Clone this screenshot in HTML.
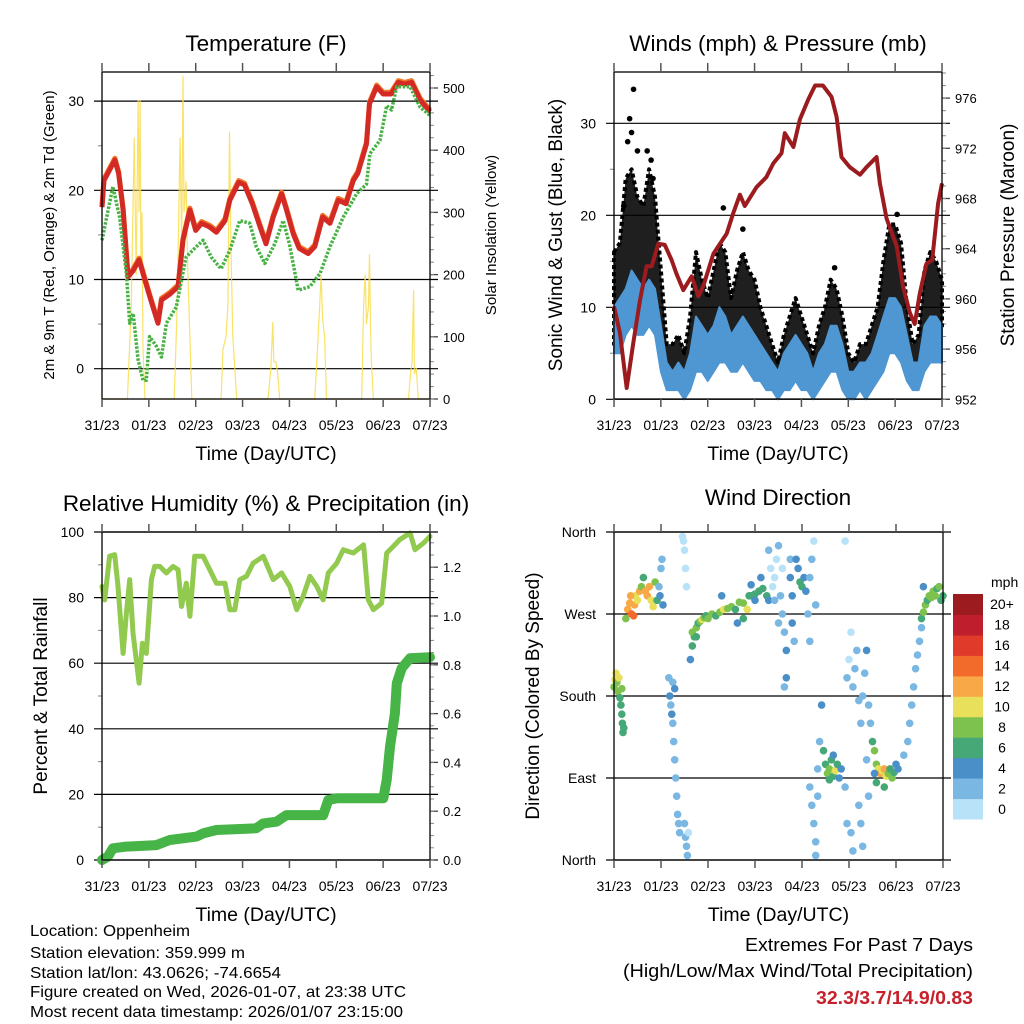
<!DOCTYPE html>
<html><head><meta charset="utf-8">
<style>
html,body{margin:0;padding:0;background:#fff;}
svg{display:block;font-family:"Liberation Sans",sans-serif;}
</style></head>
<body>
<svg id="chart" width="1024" height="1024" viewBox="0 0 1024 1024" xmlns="http://www.w3.org/2000/svg">
<rect width="1024" height="1024" fill="#fff"/>
<g id="layer"></g>
<g font-size="16" fill="#000">
<text x="30" y="936" textLength="160" lengthAdjust="spacingAndGlyphs">Location: Oppenheim</text>
<text x="30" y="958" textLength="215" lengthAdjust="spacingAndGlyphs">Station elevation: 359.999 m</text>
<text x="30" y="978" textLength="251" lengthAdjust="spacingAndGlyphs">Station lat/lon: 43.0626; -74.6654</text>
<text x="30" y="997" textLength="376" lengthAdjust="spacingAndGlyphs">Figure created on Wed, 2026-01-07, at 23:38 UTC</text>
<text x="30" y="1017" textLength="373" lengthAdjust="spacingAndGlyphs">Most recent data timestamp: 2026/01/07 23:15:00</text>
</g>
<g font-size="18.5">
<text x="745" y="951" textLength="228" lengthAdjust="spacingAndGlyphs">Extremes For Past 7 Days</text>
<text x="623" y="977" textLength="350" lengthAdjust="spacingAndGlyphs">(High/Low/Max Wind/Total Precipitation)</text>
<text x="816" y="1004" fill="#c8202a" font-weight="bold" textLength="157" lengthAdjust="spacingAndGlyphs">32.3/3.7/14.9/0.83</text>
</g>
</svg>
<script>
// ---------- data ----------
const dayLabels = ["31/23","01/23","02/23","03/23","04/23","05/23","06/23","07/23"];
// Temperature (F)
const tempHours = [0,1,6.6,8.5,10.8,13.3,16,19,22,25,28.7,30.5,35,39,41.5,45,48,51,55,58.6,63,65.5,70,73,77,81,84,87.7,92,94.5,98,101,105.6,109,113,116.8,121,125,128.7,131,135.5,137,140.7,144,148,151.8,155,158.6,163,168];
const tempValues = [18.1,21.1,23.4,21.9,17.8,10.3,11,12.2,9.9,7.7,5.1,7.7,8.4,9.2,14.4,17.8,15.5,16.3,15.9,15.3,16.6,18.9,20.9,20.6,18.5,15.9,14,17,19.6,17.8,15.1,13.5,12.9,13.7,17,16.3,18.9,18.5,21.1,21.9,25.2,29.7,31.6,30.8,30.8,32.1,31.9,32.1,30.1,28.8];
const dewHours = [0,5.6,9,12.5,14.2,16,18.5,21,22.7,24.4,27.9,30.5,33,38,43,48.4,51.8,56,61,65.5,70.6,75.7,79,83.4,88.5,92.8,96,100.5,106.5,111.7,116.8,123.6,130.4,135.5,137.2,142.4,145.8,148.3,151,157.8,163,168];
const dewValues = [14.4,20.4,17,10.7,5.1,6.2,1,-1.3,-1.3,3.6,2.5,1.3,5.1,6.9,12.5,13.7,14.4,12.5,11.2,13.3,16.6,16.3,13.7,11.8,14,16.6,14,8.8,9.2,10.7,13.7,17,19.6,20.7,24.1,25.6,29.5,29,31.6,31.6,29.3,28.4];
const solarHours = [0,13,15,16.5,17.5,18.5,19,19.5,20,20.5,21,22,37,38.5,40,40.8,41.5,42,43,44,45,46,61,62,63.5,64.5,65.3,66,67,68,69,85,86.5,87.5,88,89,90,91,109,110,111.5,112.2,113,114,115,133,134,134.8,135.5,136.5,137,137.5,138,139,157,158,158.8,159.6,160,161,162,168];
const solarValues = [0,0,150,420,200,480,300,480,200,300,80,0,0,150,420,250,520,300,350,200,100,0,0,80,100,150,430,250,100,50,0,0,50,124,60,60,40,0,0,60,150,200,130,100,0,0,150,200,120,150,233,120,60,0,0,40,60,175,40,50,0,0];
// Winds (mph) & pressure (mb), 3-hourly
const windHours = [0,3,6,9,12,15,18,21,24,27,30,33,36,39,42,45,48,51,54,57,60,63,66,69,72,75,78,81,84,87,90,93,96,99,102,105,108,111,114,117,120,123,126,129,132,135,138,141,144,147,150,153,156,159,162,165,168];
const gustLow  = [6,8,11,11,11,11,11,10,5,2,2,2,1,3,6,5,4,7,8,8,5,6,8,6,5,4,3,2,1,2,3,4,3,2,1,2,4,6,5,3,1,1,2,2,3,4,6,8,8,7,4,2,2,6,8,8,8];
const gustHigh = [16,17,24,25,22,21,25,22,14,6,6,7,5,9,16,13,11,14,17,16,11,14,16,14,13,10,8,6,4,7,9,11,9,7,5,8,10,13,12,9,5,4,6,6,8,10,15,19,19,17,10,6,7,14,16,15,13];
const windLow  = [5,5,7,8,7,7,8,7,3,1,1,1,0,1,3,3,2,3,4,4,3,3,4,3,2,2,1,1,0,1,1,2,1,1,0,1,2,3,3,1,0,0,1,0,1,2,3,5,5,4,2,1,1,3,4,4,4];
const windHigh = [10,11,12,14,13,12,13,12,8,4,3,4,3,5,9,8,7,8,10,9,7,8,9,8,7,6,5,4,3,5,6,7,6,5,3,5,6,8,8,6,3,3,4,4,5,7,9,11,11,10,7,4,4,8,9,9,8];
const gustPeakHours = [10,8,19,56,66,113,145,163,7,5,17,12,9,20];
const gustPeakValues = [33.7,30.5,26,20.8,18.5,14.3,20.1,15.5,28,21,27,27,29,24];
const presHours = [0,3,6.5,9.9,13.3,16.7,19.3,22.7,26,29.5,32,35.5,39.8,43.2,45.7,50.9,57.7,61,64.5,67,73,78,81.6,85.8,87.5,91.9,95.2,99.5,103,107,111.4,114,116.5,120.8,126,129.4,134.5,136.2,139.6,144.8,148,151.5,154,156.6,160,163,166,168];
const presValues = [959.4,957.3,952.9,956.5,959.9,962.6,962.6,964.4,964.3,963.1,962,960.7,961.8,960.2,961,963.6,965.2,966.8,968.3,967.4,968.9,969.7,970.8,971.6,973.2,972.1,974.3,975.9,977,977,976.1,974.5,971.3,970.5,969.9,970.5,971.3,969.2,966.4,964.2,961,958.9,958,960.4,962.8,963.1,967.6,969.2];
// RH & precipitation
const rhHours = [0,1.4,3.9,6.5,8.2,10.8,12.5,14.2,15.9,19,20.7,22.7,25.3,27,29.6,33,36.4,39,40.7,43.2,45,47.5,51.8,55.2,58.6,63,65.5,68,70.6,74,77.4,82.6,87.7,92,96.2,99.7,103,106.5,110,113.3,115.9,120.2,123.6,128.7,134,136.4,139,143.2,145.8,149.2,152.6,157.8,160.3,164.6,168];
const rhValues = [83.4,79.3,92.6,93.1,83.4,63,75.3,85.5,69.2,53.9,66.1,63,85.5,89.5,89.5,87.5,89.5,88.5,77.3,84.4,74.3,92.6,92.6,88.5,84.4,84.4,76.3,76.3,85.5,86.5,90.5,92.6,85.5,87.5,83.4,76.3,80.4,86.5,83.4,79.3,87.5,90.5,94.6,93.6,96.1,79.3,76.3,78.3,93.6,95.6,97.7,99.7,94.6,96.6,98.7];
const rainHours = [0,3,5.6,12.5,27.9,34.7,48.4,51.8,58.6,79,82.6,89.4,94.5,113.3,115.9,120.2,144.1,145.8,147.5,150,151,153.5,157.8,168];
const rainValues = [0,0.014,0.048,0.055,0.061,0.082,0.096,0.109,0.123,0.130,0.150,0.157,0.184,0.184,0.246,0.253,0.253,0.328,0.464,0.601,0.724,0.786,0.827,0.831];
// Wind direction (deg) colored by speed (mph)
const dirHours = [0,0.5,1,1.5,2,2.5,3,3.5,4,4.3,4.6,5,4,
 6,7,8,9,10,10.5,11,12,13,8.5,
 14,15,16,17,18,19,20,21,22,
 23,24,24.5,25,23.5,
 28,28.5,29,30,30.5,29.5,31,31.5,32,32.5,33,33.5,30,31,
 35,35.5,36,36.5,37,36,36.5,37,37.5,38,
 39,40,41,42,43,44,45,46,47,48,40,42,
 50,52,54,56,58,60,62,64,66,68,69,66,63,55,
 70,72,74,76,78,72,75,70,79,
 79,80,81,82,83,84,85,86,87,88,88,87,82,84,86,90,90,91,91,92,
 93,94,95,96,97,98,99,100,101,102,103,100,
 100,101,102,103,104,105,106,104,103,
 107,108,109,110,111,112,113,114,115,116,110,112,
 118,119,120,121,122,123,124,125,118,119,121,122,125,126,127,128,129,127,126,130,131,130,129,
 132,133,134,135,136,137,138,139,140,141,142,143,144,145,133,134,138,
 148,150,151,152,153,154,155,156,157,
 157,158,159,160,161,162,163,164,165,166,167,168,158];
const dirDeg = [190,198,205,195,185,200,178,170,160,150,140,145,188,
 265,275,282,270,268,280,290,285,295,290,
 300,310,295,290,300,285,278,305,285,
 300,320,330,280,290,
 200,180,170,150,130,160,110,90,70,50,40,30,195,188,
 355,350,340,320,300,40,25,15,5,30,
 220,235,245,255,260,262,264,266,268,265,250,245,
 270,268,272,275,276,278,275,283,282,275,290,265,260,290,
 290,292,295,298,290,285,310,302,285,
 340,320,300,310,330,345,290,270,250,230,200,190,285,260,320,330,310,260,290,240,
 330,320,305,300,310,295,270,310,330,350,280,240,
 80,60,40,20,100,130,170,70,5,
 120,105,95,100,110,92,98,105,90,100,88,115,
 350,200,220,250,190,210,230,175,80,40,30,10,60,150,180,205,230,15,40,170,150,70,110,
 130,120,105,100,95,98,100,92,95,100,90,96,105,100,95,85,80,
 115,130,150,170,190,210,225,240,255,
 265,272,280,285,290,288,295,290,298,300,285,290,300];
const dirSpeed = [8,10,10,9,8,10,6,6,6,6,6,7,8,
 8,12,13,15,14,12,10,10,12,12,
 8,6,12,12,13,11,10,8,6,
 3,3,3,4,4,
 3,4,3,3,2,4,2,2,2,2,2,2,3,4,
 1,1,1,1,1,2,2,2,2,1,
 4,6,7,8,7,8,10,8,7,8,8,6,
 8,7,8,10,8,9,6,8,8,10,6,7,4,5,
 6,6,6,6,6,5,4,4,4,
 2,1,1,1,1,2,2,3,3,4,4,3,3,3,1,3,4,4,4,3,
 4,5,6,6,5,4,3,2,2,1,2,2,
 2,2,3,2,3,3,4,2,2,
 6,7,8,8,6,7,10,6,4,4,7,5,
 1,2,1,1,2,2,2,2,2,3,2,3,2,2,3,2,4,2,2,3,2,3,3,
 6,8,8,10,12,10,12,10,8,6,8,7,4,4,5,6,6,
 2,2,2,2,2,3,3,2,3,
 7,8,8,7,8,8,8,9,6,8,6,6,4];
const speedColors = ["#b8e2f7","#7ab8e3","#4a8fc7","#45a876","#7dc24e","#e8e05a","#f9a848","#f26b2a","#e03a2a","#bf1e2d","#9b1b1e"];
const speedLabels = ["0","2","4","6","8","10","12","14","16","18","20+"];

// ---------- helpers ----------
const NS = "http://www.w3.org/2000/svg";
const layer = document.getElementById("layer");
function mk(tag, attrs, parent){
  const e = document.createElementNS(NS, tag);
  for (const k in attrs) e.setAttribute(k, attrs[k]);
  (parent||layer).appendChild(e);
  return e;
}
function txt(x,y,s,size,anchor,parent,rot){
  const t = mk("text",{x:x,y:y,"font-size":size,"text-anchor":anchor||"middle",fill:"#000"},parent);
  if (rot) t.setAttribute("transform","rotate("+rot+" "+x+" "+y+")");
  t.textContent = s;
  return t;
}
function linScale(d0,d1,r0,r1){ return v => r0 + (v-d0)/(d1-d0)*(r1-r0); }
function pathFrom(xs, ys, fx, fy){
  return xs.map((h,i)=>(i?"L":"M")+fx(h).toFixed(1)+","+fy(ys[i]).toFixed(1)).join("");
}
function xAxis(g, x0, x1, y1){
  const fx = linScale(0,168,x0,x1);
  dayLabels.forEach((lab,i)=>{
    const x = fx(i*24);
    const tb = mk("line",{x1:x,y1:y1,x2:x,y2:y1+8,stroke:"#555","stroke-width":1.5},g);
    
    
    const tt = mk("line",{x1:x,y1:y1-328,x2:x,y2:y1-336,stroke:"#555","stroke-width":1.5},g);
    
    
    const t = txt(x, y1+31, lab, 14, "middle", g);
    
    
  });
  const tl = txt((x0+x1)/2, y1+61, "Time (Day/UTC)", 19.5, "middle", g);
  
  
  return fx;
}
function frame(g,x0,y0,x1,y1){
  const r = mk("rect",{x:x0,y:y0,width:x1-x0,height:y1-y0,fill:"none",stroke:"#000","stroke-width":1.3},g);
  
  
}
function leftAxis(g, ticks, fy, x0, x1, minorTicks, labels){
  ticks.forEach((v,i)=>{
    const y = fy(v);
    const l = mk("line",{x1:x0-8,y1:y,x2:x1+8,y2:y,stroke:"#000","stroke-width":1.2},g);
    
    
    const t = txt(x0-18, y+5, labels?labels[i]:String(v), 14, "end", g);
    
    
  });
  (minorTicks||[]).forEach(v=>{
    const y = fy(v);
    const l = mk("line",{x1:x0-4,y1:y,x2:x0,y2:y,stroke:"#999","stroke-width":1.2},g);
    
    
  });
}
function rightAxis(g, ticks, minors, fy, x1, fmt){
  ticks.forEach(v=>{
    const y = fy(v);
    const l = mk("line",{x1:x1,y1:y,x2:x1+8,y2:y,stroke:"#444","stroke-width":1.3},g);
    
    
    const t = txt(x1+13, y+5, fmt(v), 13, "start", g);
    
    
  });
  minors.forEach(v=>{
    const y = fy(v);
    const l = mk("line",{x1:x1,y1:y,x2:x1+4,y2:y,stroke:"#888","stroke-width":1},g);
    
    
  });
}
function range(a,b,s){const r=[];for(let v=a;v<=b+1e-9;v+=s)r.push(+v.toFixed(4));return r;}

// ---------- Panel 1: Temperature ----------
(function(){
  const g = mk("g",{});
  
  
  const x0=102,x1=430,y0=72,y1=399;
  const fyT = linScale(0,30,368.7,101.1);
  const fyS = linScale(0,500,399,88);
  const fx = linScale(0,168,x0,x1);
  const tt = txt(266,51,"Temperature (F)",22.5,"middle",g);
  
  
  leftAxis(g,[0,10,20,30],fyT,x0,x1,[5,15,25]);
  rightAxis(g,[0,100,200,300,400,500],range(0,520,20),fyS,x1,v=>String(v));
  const sol = mk("path",{d:pathFrom(solarHours,solarValues,fx,fyS),fill:"none",stroke:"#f9dd4a","stroke-width":1.2,"stroke-opacity":0.85},g);
  
  
  const fyTo = v=>fyT(v)-1.8;
  const or = mk("path",{d:pathFrom(tempHours,tempValues,fx,fyTo),fill:"none",stroke:"#f07a2a","stroke-width":5,"stroke-linejoin":"round"},g);
  
  
  const red = mk("path",{d:pathFrom(tempHours,tempValues,fx,fyT),fill:"none",stroke:"#d42a26","stroke-width":5,"stroke-linejoin":"round"},g);
  
  
  const dew = mk("path",{d:pathFrom(dewHours,dewValues,fx,fyT),fill:"none",stroke:"#47b243","stroke-width":3.5,"stroke-dasharray":"2.5 1.5","stroke-linejoin":"round"},g);
  
  
  frame(g,x0,y0,x1,y1);
  xAxis(g,x0,x1,y1);
  const yl = txt(54,235,"2m & 9m T (Red, Orange) & 2m Td (Green)",15,"middle",g,-90);
  
  
  const yr = txt(496,235,"Solar Insolation (Yellow)",15,"middle",g,-90);
  
  
})();

// ---------- Panel 2: Winds ----------
(function(){
  const g = mk("g",{});
  
  
  const x0=614,x1=942,y0=72,y1=399;
  const fyW = linScale(0,30,399.3,123.3);
  const fyP = linScale(952,976,399.3,98.1);
  const fx = linScale(0,168,x0,x1);
  const tt = txt(778,51,"Winds (mph) & Pressure (mb)",22.5,"middle",g);
  
  
  leftAxis(g,[0,10,20,30],fyW,x0,x1,[5,15,25]);
  rightAxis(g,[952,956,960,964,968,972,976],range(952,978,1),fyP,x1,v=>String(v));
  let d = windHours.map((h,i)=>(i?"L":"M")+fx(h).toFixed(1)+","+fyW(gustHigh[i]).toFixed(1)).join("");
  for (let i=windHours.length-1;i>=0;i--) d += "L"+fx(windHours[i]).toFixed(1)+","+fyW(gustLow[i]).toFixed(1);
  const gc = mk("path",{d:d+"Z",fill:"#000","fill-opacity":0.88,stroke:"#000","stroke-width":4,"stroke-dasharray":"4 3","stroke-linejoin":"round"},g);
  
  
  gustPeakHours.forEach((h,i)=>{
    const c = mk("circle",{cx:fx(h),cy:fyW(gustPeakValues[i]),r:2.8,fill:"#000"},g);
    
    
  });
  let d2 = windHours.map((h,i)=>(i?"L":"M")+fx(h).toFixed(1)+","+fyW(windHigh[i]).toFixed(1)).join("");
  for (let i=windHours.length-1;i>=0;i--) d2 += "L"+fx(windHours[i]).toFixed(1)+","+fyW(windLow[i]).toFixed(1);
  const wb = mk("path",{d:d2+"Z",fill:"#4e97d3",stroke:"#4e97d3","stroke-width":2,"stroke-linejoin":"round"},g);
  
  
  const pr = mk("path",{d:pathFrom(presHours,presValues,fx,fyP),fill:"none",stroke:"#9b1b1e","stroke-width":4,"stroke-linejoin":"round"},g);
  
  
  frame(g,x0,y0,x1,y1);
  xAxis(g,x0,x1,y1);
  const yl = txt(562,235,"Sonic Wind & Gust (Blue, Black)",19,"middle",g,-90);
  
  
  const yr = txt(1014,235,"Station Pressure (Maroon)",19,"middle",g,-90);
  
  
})();

// ---------- Panel 3: RH & Precip ----------
(function(){
  const g = mk("g",{});
  
  
  const x0=102,x1=430,y0=532,y1=860;
  const fyH = linScale(0,100,860,532);
  const fyR = linScale(0,1,860,616);
  const fx = linScale(0,168,x0,x1);
  const tt = txt(266,511,"Relative Humidity (%) & Precipitation (in)",22.5,"middle",g);
  
  
  leftAxis(g,[0,20,40,60,80,100],fyH,x0,x1,[10,30,50,70,90]);
  rightAxis(g,[0,0.2,0.4,0.6,0.8,1.0,1.2],range(0,1.34,0.05),fyR,x1,v=>v.toFixed(1));
  const rh = mk("path",{d:pathFrom(rhHours,rhValues,fx,fyH),fill:"none",stroke:"#92c94f","stroke-width":5,"stroke-linejoin":"round","stroke-linecap":"round"},g);
  
  
  const rn = mk("path",{d:pathFrom(rainHours,rainValues,fx,fyR),fill:"none",stroke:"#46b446","stroke-width":10,"stroke-linejoin":"round","stroke-linecap":"round"},g);
  
  
  frame(g,x0,y0,x1,y1);
  xAxis(g,x0,x1,y1);
  const yl = txt(47,696,"Percent & Total Rainfall",19,"middle",g,-90);
  
  
})();

// ---------- Panel 4: Wind Direction ----------
(function(){
  const g = mk("g",{});
  
  
  const x0=614,x1=943,y0=532,y1=860;
  const fyD = linScale(0,360,860,532);
  const fx = linScale(0,168,x0,x1);
  const tt = txt(778,505,"Wind Direction",22.5,"middle",g);
  
  
  leftAxis(g,[0,90,180,270,360],fyD,x0,x1,[],["North","East","South","West","North"]);
  dirHours.forEach((h,i)=>{
    const ci = Math.min(10,Math.floor(dirSpeed[i]/2));
    const c = mk("circle",{cx:fx(h).toFixed(1),cy:fyD(dirDeg[i]).toFixed(1),r:3.8,fill:speedColors[ci]},g);
    
    
  });
  frame(g,x0,y0,x1,y1);
  xAxis(g,x0,x1,y1);
  const yl = txt(539,696,"Direction (Colored By Speed)",19,"middle",g,-90);
  
  
  const cb = mk("g",{},g);
  
  
  const u = txt(991,587,"mph",14,"start",cb);
  
  
  const h = (819-594)/11;
  speedColors.forEach((col,i)=>{
    const y = 819 - (i+1)*h;
    const r = mk("rect",{x:953,y:y.toFixed(1),width:30,height:(h+0.5).toFixed(1),fill:col},cb);
    
    
    const t = txt(1002, y+h/2+5, speedLabels[i], 14, "middle", cb);
    
    
  });
})();
</script>
</body></html>
